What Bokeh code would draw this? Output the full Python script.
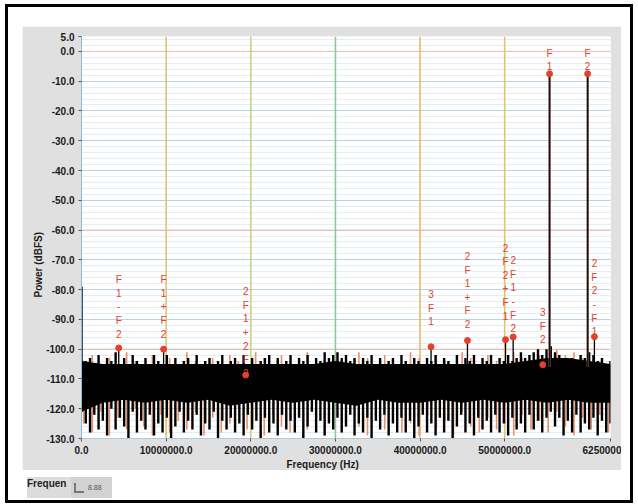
import numpy as np
from bokeh.plotting import figure
from bokeh.models import Range1d, FixedTicker, CustomJSTickFormatter, Span, Title, Div
from bokeh.layouts import column
from bokeh.core.properties import value
from bokeh.embed import file_html
from bokeh.resources import INLINE

# ---------------- data ----------------
x_tick_hz = [0, 10000000, 20000000, 30000000, 40000000, 50000000, 62500000]
y_tick_db = [5, 0, -10, -20, -30, -40, -50, -60, -70, -80, -90, -100, -110, -120, -130]

# noise floor, black trace: per frequency bin a (peak, trough) pair
noise_black_db = [
    -79, -121, -104, -125, -103, -128, -105, -122, -102, -127,
    -106, -124, -103, -129, -104, -120, -101, -127, -105, -123,
    -103, -126, -106, -130, -102, -121, -104, -128, -105, -124,
    -103, -127, -106, -122, -102, -129, -104, -125, -105, -128,
    -102, -123, -105, -130, -103, -126, -106, -121, -104, -128,
    -103, -124, -105, -127, -102, -122, -106, -129, -104, -125,
    -103, -127, -105, -121, -104, -130, -102, -124, -106, -127,
    -104, -123, -103, -128, -105, -125, -102, -129, -106, -122,
    -103, -127, -105, -124, -104, -130, -103, -123, -102, -128,
    -105, -125, -103, -129, -106, -122, -104, -127, -102, -124,
    -105, -128, -103, -123, -104, -130, -102, -126, -105, -121,
    -103, -128, -104, -124, -101, -129, -103, -125, -102, -127,
    -101, -123, -103, -128, -102, -126, -104, -122, -103, -129,
    -105, -125, -103, -128, -104, -123, -102, -130, -105, -124,
    -103, -127, -106, -122, -104, -129, -103, -125, -105, -128,
    -102, -123, -104, -128, -106, -124, -103, -130, -104, -126,
    -105, -122, -103, -128, -104, -125, -102, -129, -105, -123,
    -103, -128, -104, -124, -106, -130, -102, -126, -105, -122,
    -103, -128, -104, -125, -102, -129, -105, -123, -103, -127,
    -104, -124, -102, -128, -105, -122, -103, -128, -104, -125,
    -102, -129, -104, -123, -103, -127, -101, -125, -103, -128,
    -102, -122, -101, -127, -100, -124, -102, -128, -100, -123,
    -99, -121, -101, -126, -102, -123, -103, -129, -104, -124,
    -103, -128, -105, -122, -102, -128, -103, -125, -101, -127,
    -102, -123, -104, -129, -103, -124, -105, -128, -104, -125,
]

# noise floor, salmon trace: (peak, trough) pairs
noise_salmon_db = [
    -104, -125, -102, -128, -106, -121, -103, -129, -105, -123,
    -101, -127, -104, -120, -106, -126, -102, -129, -105, -122,
    -103, -128, -106, -124, -101, -127, -104, -121, -105, -129,
    -103, -123, -106, -128, -102, -125, -104, -120, -105, -127,
    -101, -124, -103, -129, -106, -122, -102, -126, -104, -128,
    -105, -121, -101, -127, -103, -125, -106, -129, -102, -123,
    -104, -128, -105, -120, -101, -126, -103, -129, -106, -124,
    -102, -127, -104, -121, -105, -128, -101, -125, -103, -129,
    -106, -122, -102, -127, -104, -124, -105, -129, -101, -121,
    -103, -126, -106, -128, -102, -123, -104, -127, -105, -125,
    -101, -129, -103, -122, -106, -127, -102, -124, -104, -128,
    -100, -121, -102, -126, -101, -129, -103, -123, -105, -127,
    -104, -122, -106, -128,
]

# solid core of the noise band
core_freq_mhz = [0, 2.5, 5, 7.5, 10, 12.5, 15, 17.5, 20, 22.5, 25, 27.5, 30,
                 32.5, 35, 37.5, 40, 42.5, 45, 47.5, 50, 52.5, 55, 57.5, 60, 62.5]
core_top_db = [-104, -105, -105, -105, -105, -105, -105, -105, -105, -105, -105, -105, -104,
               -105, -105, -105, -105, -105, -105, -105, -105, -104, -103, -103, -104, -105]
core_bottom_db = [-121, -118, -117, -118, -117, -118, -117, -119, -118, -117, -118, -117, -118,
                  -119, -117, -118, -118, -117, -118, -117, -118, -117, -118, -117, -118, -118]

# marked spurs
spur_names = ["F1-F2", "F1+F2", "2F1+2F2", "3F1", "2F1+F2", "2F2+F1", "2F1-F2", "3F2", "2F2-F1"]
spur_freq_mhz = [4.4, 9.7, 19.4, 41.3, 45.6, 50.1, 51.0, 54.5, 60.6]
spur_db = [-99.6, -100.0, -108.7, -99.2, -97.1, -96.8, -95.9, -105.2, -95.8]

# the two tones
tone_names = ["F1", "F2"]
tone_freq_mhz = [55.3, 59.8]
tone_db = [-7.5, -7.5]

# label placement (top of each stacked label, in dB)
spur_label_top = [-74.8, -74.8, -78.8, -79.8, -67.0, -64.2, -68.4, -85.8, -69.4]
tone_label_top = [1.2, 1.2]

# ---------------- figure ----------------
FONT = "Liberation Sans"
p = figure(width=599, height=444, output_backend="svg", toolbar_location=None,
           x_range=Range1d(0, 62500000), y_range=Range1d(-130, 5),
           min_border_left=59, min_border_right=11, min_border_top=10, min_border_bottom=32,
           background_fill_color="white", border_fill_color="#e0e0e0",
           outline_line_color=None)

minor_y = [v for v in range(-128, 5, 2) if v % 10 != 0]
p.yaxis.ticker = FixedTicker(ticks=y_tick_db, minor_ticks=minor_y)
p.xaxis.ticker = FixedTicker(ticks=x_tick_hz)
p.yaxis.formatter = CustomJSTickFormatter(code="return tick.toFixed(1);")
p.xaxis.formatter = CustomJSTickFormatter(
    code="return tick > 60000000 ? (tick / 10).toFixed(0) : tick.toFixed(1);")

for ax in (p.xaxis, p.yaxis):
    ax.major_label_text_font = FONT
    ax.major_label_text_font_style = "bold"
    ax.major_label_text_font_size = "10px"
    ax.major_label_text_color = "#1a1a1a"
    ax.major_tick_in = 0
    ax.major_tick_out = 3
    ax.major_tick_line_color = "#555555"
    ax.minor_tick_line_color = None
p.yaxis.axis_line_color = "#8fb9d6"
p.xaxis.axis_line_color = "#b5cad8"
p.yaxis.major_label_standoff = 3
p.xaxis.major_label_standoff = 4

p.ygrid.grid_line_color = "#b9d3e6"
p.ygrid.minor_grid_line_color = "#e4ecf4"
p.xgrid.grid_line_color = None

for loc in (0, -60, -100):
    p.add_layout(Span(location=loc, dimension="width", line_color="#f0bcb2",
                      line_width=1, level="underlay"))
vcolors = ["#dcc474", "#c9d184", "#8fca8f", "#e8b86a", "#e2c36e"]
for xv, c in zip(x_tick_hz[1:6], vcolors):
    p.add_layout(Span(location=xv, dimension="height", line_color=c,
                      line_width=1.6, level="underlay"))

# salmon spikes (peak to trough per bin)
s_hi, s_lo = noise_salmon_db[0::2], noise_salmon_db[1::2]
xs_salmon = np.linspace(250000, 62250000, len(s_hi))
p.segment(x0=xs_salmon, y0=s_hi, x1=xs_salmon, y1=s_lo,
          line_color="#e8906a", line_width=1.6)

# solid core
core_hz = [f * 1e6 for f in core_freq_mhz]
p.varea(x=core_hz, y1=core_bottom_db, y2=core_top_db, fill_color="black")

# black spikes (peak to trough per bin)
b_hi, b_lo = noise_black_db[0::2], noise_black_db[1::2]
xs_black = np.linspace(0, 62500000, len(b_hi))
p.segment(x0=xs_black, y0=b_hi, x1=xs_black, y1=b_lo,
          line_color="black", line_width=2.4)

# spur stems
spur_hz = [f * 1e6 for f in spur_freq_mhz]
p.segment(x0=spur_hz, y0=[-106] * len(spur_hz), x1=spur_hz, y1=spur_db,
          line_color="black", line_width=1.3)

# tone lines
tone_hz = [f * 1e6 for f in tone_freq_mhz]
p.segment(x0=tone_hz, y0=[-106] * 2, x1=tone_hz, y1=tone_db,
          line_color="#7a5048", line_width=2.3)
p.segment(x0=tone_hz, y0=[-106] * 2, x1=tone_hz, y1=tone_db,
          line_color="#1a1010", line_width=1.3)

# markers
RED = "#e4402c"
p.scatter(spur_hz + tone_hz, spur_db + tone_db, size=6, color=RED)

# stacked labels
p.text(x=spur_hz + tone_hz, y=spur_label_top + tone_label_top,
       text=["\n".join(n) for n in spur_names + tone_names],
       text_align="center", text_baseline="top",
       text_font=value(FONT), text_font_size="10px", text_color=RED,
       text_line_height=1.24)

# axis titles (positioned along the axes with an offset)
p.add_layout(Title(text="Power (dBFS)", align="left", offset=141, standoff=0,
                   text_font=FONT, text_font_style="bold", text_font_size="10px",
                   text_color="#1a1a1a"), "left")
p.add_layout(Title(text="Frequency (Hz)", align="left", offset=205, standoff=0,
                   text_font=FONT, text_font_style="bold", text_font_size="10px",
                   text_color="#1a1a1a"), "below")

footer_html = (
    "<div style=\"display:flex;height:21px;margin-top:-3px;font-family:'Liberation Sans';\">"
    "<div style=\"width:44px;height:21px;background:#dcdcdc;font-weight:bold;"
    "font-size:10px;line-height:14px;color:#222;\">Frequen</div>"
    "<div style=\"width:41px;height:21px;background:#d2d2d2;font-size:7px;color:#555;"
    "display:flex;align-items:center;gap:4px;padding-left:3px;box-sizing:border-box;\">"
    "<span style=\"display:inline-block;width:10px;height:10px;border-left:2px solid #777;"
    "border-bottom:2px solid #777;\"></span><span>8.88</span></div></div>"
)
footer = Div(text=footer_html, width=599, height=21)

root = column(p, footer, width=628, height=499, styles={
    "border": "3px solid black",
    "padding": "19px 9px 9px 14px",
    "background-color": "white",
    "margin": "4px 0 0 5px",
    "box-sizing": "border-box",
})

open("out.html", "w").write(file_html(root, INLINE))
